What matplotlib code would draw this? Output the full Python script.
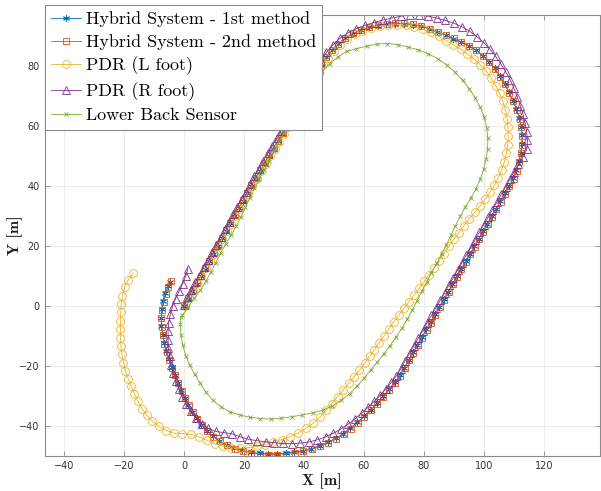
import numpy as np
import matplotlib
matplotlib.use("Agg")
import matplotlib.pyplot as plt

# Estimated trajectories (x, y) in metres
hybrid1 = [
    (0.0,0.0),(1.4,2.5),(2.8,5.0),(4.2,7.5),(5.6,10.0),(7.0,12.5),(8.4,15.0),(9.8,17.5),(11.2,20.0),(12.6,22.6),
    (14.0,25.1),(15.4,27.6),(16.8,30.1),(18.2,32.6),(19.6,35.1),(21.0,37.6),(22.4,40.1),(23.8,42.6),(25.3,45.1),
    (26.8,47.6),(28.3,50.1),(29.8,52.5),(31.3,55.0),(32.8,57.5),(34.3,60.0),(35.8,62.5),(37.2,65.0),(38.6,67.5),
    (40.0,70.1),(41.4,72.7),(42.8,75.3),(44.2,77.9),(45.7,80.5),
    (47.4,83.0),(49.3,85.3),(51.4,87.4),(53.7,89.3),(56.2,90.8),(58.9,92.0),(61.7,92.9),(64.6,93.5),(67.5,93.9),
    (70.4,94.1),(73.3,94.1),(76.2,93.8),(79.0,93.2),(81.8,92.4),(84.5,91.4),(87.2,90.3),(89.8,89.1),(92.4,87.9),
    (94.9,86.8),(97.3,85.3),(99.6,83.5),(101.7,81.5),(103.6,79.2),(105.3,76.7),(106.9,74.1),(108.3,71.3),
    (109.6,68.5),(110.8,65.6),(111.8,62.7),(112.4,59.8),(112.7,56.9),(112.6,54.0),(112.2,51.1),(111.6,48.2),
    (110.8,45.3),(109.8,42.6),
    (108.4,40.1),(106.9,37.6),(105.5,35.0),(104.0,32.5),(102.6,30.0),(101.1,27.5),(99.7,25.0),(98.2,22.5),
    (96.8,19.9),(95.3,17.4),(93.9,14.9),(92.4,12.4),(91.0,9.9),(89.5,7.4),(88.1,4.8),(86.6,2.3),(85.1,-0.2),
    (83.7,-2.7),(82.2,-5.3),(80.8,-7.8),(79.3,-10.3),(77.8,-12.9),(76.4,-15.4),(74.9,-17.9),(73.5,-20.5),
    (72.0,-23.0),(70.2,-25.4),(68.3,-27.8),(66.3,-30.1),(64.3,-32.4),(62.2,-34.6),(60.0,-36.7),(57.8,-38.8),
    (55.5,-40.7),(53.1,-42.5),(50.6,-44.1),(48.0,-45.4),(45.3,-46.6),(42.5,-47.5),(39.7,-48.2),(36.8,-48.7),
    (33.9,-49.1),(31.0,-49.3),(28.1,-49.3),(25.2,-49.1),(22.3,-48.7),(19.5,-48.1),(16.8,-47.3),(14.2,-46.2),
    (11.8,-44.9),(9.6,-43.3),(7.6,-41.5),(5.8,-39.5),(4.2,-37.4),(2.8,-35.2),(1.5,-32.9),(0.3,-30.5),
    (-0.9,-28.0),(-2.0,-25.5),(-3.1,-22.9),(-4.1,-20.3),(-5.1,-17.7),(-5.9,-15.0),(-6.6,-12.3),(-7.1,-9.5),
    (-7.5,-6.7),(-7.6,-3.9),(-7.4,-1.1),(-6.9,1.6),(-6.2,4.2),(-5.4,6.7),(-4.6,8.0),
]

hybrid2 = [
    (0.1,0.2),(1.5,2.7),(2.9,5.2),(4.3,7.6),(5.7,10.1),(7.1,12.6),(8.5,15.1),(9.9,17.6),(11.3,20.2),(12.7,22.7),
    (14.1,25.2),(15.5,27.7),(16.9,30.2),(18.3,32.7),(19.7,35.2),(21.1,37.7),(22.5,40.2),(23.9,42.7),(25.4,45.2),
    (26.9,47.7),(28.4,50.2),(29.9,52.6),(31.4,55.1),(32.9,57.6),(34.4,60.1),(35.9,62.6),(37.3,65.1),(38.7,67.6),
    (40.1,70.2),(41.5,72.8),(42.9,75.4),(44.3,78.0),(45.8,80.6),
    (47.5,83.1),(49.4,85.4),(51.5,87.5),(53.8,89.4),(56.3,90.9),(59.0,92.1),(61.8,93.0),(64.7,93.6),(67.6,94.0),
    (70.5,94.2),(73.4,94.2),(76.3,93.9),(79.1,93.3),(81.9,92.5),(84.6,91.5),(87.3,90.4),(89.9,89.2),(92.5,88.0),
    (95.0,86.8),(97.4,85.2),(99.7,83.4),(101.8,81.3),(103.7,79.0),(105.4,76.5),(107.0,73.9),(108.4,71.1),
    (109.7,68.3),(110.9,65.4),(111.9,62.5),(112.5,59.6),(112.8,56.7),(112.7,53.8),(112.3,50.9),(111.7,48.0),
    (110.9,45.1),(109.9,42.4),
    (108.5,39.9),(107.0,37.4),(105.6,34.8),(104.1,32.3),(102.7,29.8),(101.2,27.3),(99.8,24.8),(98.3,22.3),
    (96.9,19.7),(95.4,17.2),(94.0,14.7),(92.5,12.2),(91.1,9.7),(89.6,7.2),(88.2,4.6),(86.7,2.1),(85.2,-0.4),
    (83.8,-2.9),(82.3,-5.5),(80.9,-8.0),(79.4,-10.5),(77.9,-13.1),(76.5,-15.6),(75.0,-18.1),(73.6,-20.7),
    (72.1,-23.2),(70.3,-25.6),(68.4,-28.0),(66.4,-30.3),(64.4,-32.6),(62.3,-34.8),(60.1,-36.9),(57.9,-39.0),
    (55.6,-40.9),(53.2,-42.7),(50.7,-44.3),(48.1,-45.6),(45.4,-46.8),(42.6,-47.7),(39.8,-48.4),(36.9,-48.9),
    (34.0,-49.3),(31.1,-49.5),(28.2,-49.5),(25.3,-49.3),(22.4,-48.9),(19.6,-48.3),(16.9,-47.5),(14.3,-46.4),
    (11.9,-45.1),(9.7,-43.5),(7.7,-41.7),(5.9,-39.7),(4.3,-37.6),(2.9,-35.4),(1.6,-33.1),(0.4,-30.7),
    (-0.8,-28.2),(-1.9,-25.7),(-3.0,-23.1),(-4.0,-20.5),(-5.0,-17.9),(-5.8,-15.2),(-6.5,-12.5),(-7.0,-9.7),
    (-7.4,-6.9),(-7.5,-4.1),(-7.3,-1.3),(-6.8,1.4),(-6.1,4.0),(-5.3,6.5),(-4.4,8.3),
]

pdr_left = [
    (0.2,0.1),(1.6,2.6),(3.0,5.1),(4.4,7.6),(5.8,10.1),(7.2,12.6),(8.6,15.0),(10.0,17.5),(11.4,20.0),(12.8,22.5),
    (14.2,25.0),(15.6,27.5),(17.0,30.0),(18.4,32.5),(19.8,35.0),(21.2,37.5),(22.7,40.0),(24.2,42.5),(25.7,45.0),
    (27.2,47.5),(28.7,49.9),(30.2,52.3),(31.7,54.8),(33.2,57.3),(34.8,59.8),(36.3,62.3),(37.8,64.8),(39.3,67.3),
    (40.7,69.9),(42.1,72.5),(43.5,75.1),(44.9,77.7),(46.4,80.2),
    (48.1,82.7),(50.0,85.0),(52.1,87.1),(54.4,89.0),(56.9,90.6),(59.5,91.8),(62.3,92.7),(65.2,93.3),(68.1,93.6),
    (71.0,93.7),(73.9,93.6),(76.8,93.1),(79.6,92.2),(82.3,91.2),(84.9,89.9),(87.4,88.5),(89.8,87.0),(92.2,85.6),
    (94.5,84.0),(96.7,82.3),(98.8,80.4),(100.7,78.3),(102.4,76.0),(103.9,73.5),(105.2,70.9),(106.3,68.2),
    (107.1,65.4),(107.7,62.5),(108.0,59.6),(108.1,56.7),(107.9,53.8),(107.5,50.9),(106.8,48.1),(105.9,45.4),
    (104.8,42.8),(103.5,40.3),(102.0,37.9),
    (100.4,35.6),(98.7,33.4),(96.9,31.2),(95.1,29.0),(93.3,26.8),(91.6,24.5),(89.9,22.2),(88.2,19.9),(86.6,17.5),
    (85.0,15.1),(83.4,12.8),(81.8,10.5),(80.1,8.2),(78.4,5.9),(76.7,3.6),(75.0,1.4),(73.3,-0.8),(71.6,-3.0),
    (69.9,-5.3),(68.3,-7.6),(66.7,-9.9),(65.1,-12.2),(63.5,-14.5),(61.9,-16.8),(60.2,-19.1),(58.5,-21.4),
    (56.7,-23.6),(54.9,-25.8),(53.1,-28.0),(51.2,-30.2),(49.2,-32.6),(47.3,-34.8),(45.3,-37.0),(43.1,-39.0),
    (40.7,-40.8),(38.1,-42.3),(35.4,-43.5),(32.6,-44.5),(29.8,-45.4),(27.0,-46.2),(24.2,-46.8),(21.4,-47.2),
    (18.6,-47.4),(15.8,-47.3),(13.0,-46.8),(10.3,-45.9),(7.7,-44.8),(5.0,-43.6),(2.3,-42.8),(-0.5,-42.5),
    (-3.3,-42.4),(-5.9,-41.5),(-8.3,-40.1),(-10.5,-38.4),(-12.4,-36.4),(-14.0,-34.2),(-15.3,-31.8),(-16.5,-29.3),
    (-17.6,-26.8),(-18.6,-24.2),(-19.5,-21.6),(-20.2,-18.9),(-20.7,-16.1),(-21.0,-13.3),(-21.2,-10.5),
    (-21.2,-7.7),(-21.2,-4.9),(-21.1,-2.1),(-20.9,0.7),(-20.5,3.5),(-19.8,6.2),(-18.6,8.7),(-17.0,10.9),
]

pdr_right = [
    (0.0,0.5),(1.1,2.9),(2.4,5.5),(3.8,8.0),(5.2,10.5),(6.6,13.0),(8.0,15.5),(9.4,18.0),(10.8,20.5),(12.2,23.1),
    (13.6,25.6),(15.0,28.1),(16.4,30.6),(17.8,33.1),(19.2,35.6),(20.6,38.1),(22.0,40.6),(23.4,43.2),(24.9,45.8),
    (26.4,48.4),(27.9,50.9),(29.4,53.4),(30.9,55.9),(32.4,58.4),(33.9,61.0),(35.4,63.6),(36.8,66.2),(38.2,68.8),
    (39.6,71.4),(41.0,74.0),(42.5,76.6),(44.0,79.2),(45.6,81.7),
    (47.5,84.6),(49.7,87.1),(52.1,89.3),(54.7,91.1),(57.5,92.5),(60.4,93.6),(63.3,94.5),(66.3,95.3),(69.3,96.0),
    (72.3,96.6),(75.3,97.0),(78.3,97.0),(81.3,96.6),(84.2,96.0),(87.1,95.2),(89.9,94.3),(92.6,93.1),(95.2,91.6),
    (97.6,89.8),(99.9,87.8),(102.0,85.6),(103.9,83.2),(105.6,80.7),(107.2,78.1),(108.7,75.4),(110.0,72.6),
    (111.1,69.7),(112.1,66.8),(113.0,63.9),(113.7,61.0),(114.2,58.1),(114.5,55.2),(114.3,52.3),
    (113.0,49.7),(111.5,47.2),(110.0,44.7),(108.6,42.2),(107.2,39.7),(105.7,37.2),(104.3,34.6),(102.8,32.1),
    (101.4,29.6),(99.9,27.1),(98.5,24.6),(97.0,22.1),(95.6,19.5),(94.1,17.0),(92.7,14.5),(91.2,12.0),(89.8,9.5),
    (88.3,7.0),(86.9,4.4),(85.4,1.9),(83.9,-0.6),(82.5,-3.1),(81.0,-5.6),(79.6,-8.2),(78.1,-10.7),(76.6,-13.3),
    (75.2,-15.8),(73.7,-18.3),(72.3,-20.9),(70.8,-23.2),(69.1,-25.4),(67.3,-27.6),(65.4,-29.7),(63.4,-31.8),
    (61.3,-33.8),(59.2,-35.7),(57.0,-37.6),(54.7,-39.4),(52.3,-41.0),(49.8,-42.4),(47.2,-43.6),(44.5,-44.6),
    (41.7,-45.3),(38.8,-45.7),(35.9,-45.9),(33.0,-45.8),(30.1,-45.6),(27.2,-45.3),(24.3,-44.9),(21.5,-44.4),
    (18.7,-43.6),(16.0,-42.6),(13.3,-42.2),(10.6,-41.8),(8.1,-40.8),(5.9,-39.2),(3.9,-37.3),(2.2,-35.1),
    (0.7,-32.7),(-0.6,-30.2),(-1.7,-27.6),(-2.7,-25.0),(-3.6,-22.3),(-4.3,-19.6),(-4.8,-16.8),(-5.2,-14.0),
    (-5.3,-11.2),(-5.3,-8.4),(-5.1,-5.6),(-4.6,-2.8),(-3.8,-0.1),(-2.8,2.5),(-1.6,5.0),(-0.4,7.5),(0.6,10.0),
    (1.3,12.5),
]

lower_back = [
    (-0.5,-3.0),(1.5,-0.2),(3.5,2.6),(5.5,5.3),(7.3,8.3),(9.0,11.4),(10.6,14.5),(12.2,17.6),(13.9,20.6),
    (15.6,23.6),(17.4,26.6),(19.0,29.7),(20.5,32.9),(22.0,36.1),(23.5,39.3),(25.1,42.4),(26.8,45.4),(28.5,48.5),
    (30.1,51.6),(31.7,54.7),(33.3,57.8),(34.9,60.9),(36.5,64.0),(38.1,67.1),(39.8,70.1),(41.6,73.0),(43.6,75.8),
    (46.0,78.4),(48.6,80.8),(51.3,83.0),(54.2,84.9),(57.5,85.8),(60.9,86.6),(64.3,87.3),(67.8,87.5),(71.3,87.1),
    (74.7,86.3),(78.1,85.4),(81.4,84.1),(84.6,82.4),(87.6,80.3),(90.4,77.9),(92.9,75.2),(95.1,72.4),(97.1,69.3),
    (98.8,66.2),(100.1,62.9),(100.9,59.5),(101.3,56.0),(101.2,52.5),(100.7,49.0),(99.9,45.6),(98.8,42.3),
    (97.3,39.1),(95.6,36.0),(93.8,33.0),(92.1,29.9),(90.5,26.8),(89.0,23.6),(87.5,20.4),(85.9,17.3),(84.2,14.2),
    (82.5,11.1),(80.9,8.0),(79.3,4.9),(77.7,1.8),(76.1,-1.3),(74.4,-4.4),(72.6,-7.4),(70.7,-10.3),(68.7,-13.2),
    (66.6,-16.0),(64.4,-18.7),(62.2,-21.4),(60.0,-24.1),(57.7,-26.7),(55.2,-29.2),(52.5,-31.4),(49.5,-33.3),
    (46.3,-34.7),(42.9,-35.6),(39.5,-36.3),(36.0,-36.9),(32.5,-37.4),(29.0,-37.7),(25.5,-37.5),(22.0,-37.1),
    (18.6,-36.3),(15.3,-35.3),(12.3,-33.6),(9.6,-31.4),(7.3,-28.7),(5.4,-25.8),(3.6,-22.8),(1.9,-19.7),
    (0.6,-16.5),(-0.4,-13.1),(-1.0,-9.6),(-1.2,-6.1),(-1.0,-3.5),
]

labels = ["Hybrid System - 1st method", "Hybrid System - 2nd method",
          "PDR (L foot)", "PDR (R foot)", "Lower Back Sensor"]
xticks = [-40, -20, 0, 20, 40, 60, 80, 100, 120]
yticks = [-40, -20, 0, 20, 40, 60, 80]

series = [hybrid1, hybrid2, pdr_left, pdr_right, lower_back]
colors = ["#0072BD", "#D95319", "#EDB120", "#7E2F8E", "#77AC30"]
markers = [(6, 2, 0), "s", "o", "^", "x"]
msizes = [5.0, 4.6, 5.6, 6.0, 3.2]

W, H = 601, 491
fig = plt.figure(figsize=(W / 100, H / 100), dpi=100)
ax_l, ax_r, ax_t, ax_b = 45, 599.5, 15, 455.5
ax_w, ax_h = ax_r - ax_l, ax_b - ax_t
ax = fig.add_axes([ax_l / W, 1 - ax_b / H, ax_w / W, ax_h / H])

for pts, col, mk, ms, lab in zip(series, colors, markers, msizes, labels):
    arr = np.asarray(pts)
    ax.plot(arr[:, 0], arr[:, 1], color=col, lw=0.6, marker=mk, ms=ms,
            mfc="none", mec=col, mew=0.6, label=lab)

ax.set_xlim(-46.33, 138.5)
ax.set_ylim(-49.83, 97.0)
ax.set_xticks(xticks)
ax.set_yticks(yticks)
ax.grid(True, color="#e6e6e6", lw=0.6)
ax.set_axisbelow(True)
ax.tick_params(direction="in", top=True, right=True, length=3.5, width=0.6,
               colors="#8a8a8a", labelcolor="#333333", labelsize=7, pad=4)
for s in ax.spines.values():
    s.set_color("#8a8a8a")
    s.set_linewidth(0.8)

ax.set_xlabel("X [m]", fontfamily="cmb10", fontsize=11.5, color="#222222", va="center")
ax.set_ylabel("Y [m]", fontfamily="cmb10", fontsize=11.5, color="#222222", va="center")
ax.xaxis.set_label_coords(0.5, (ax_b - 481) / ax_h)
ax.yaxis.set_label_coords((15 - ax_l) / ax_w, 0.5)

leg = ax.legend(loc="upper left", bbox_to_anchor=(ax_l / W, 1 - 5 / H),
                bbox_transform=fig.transFigure, prop={"family": "cmr10", "size": 13},
                frameon=True, fancybox=False, framealpha=1, edgecolor="#8a8a8a",
                borderaxespad=0, handlelength=1.65, handletextpad=0.25,
                labelspacing=0.38, borderpad=0.35, numpoints=1)
leg.get_frame().set_linewidth(0.8)
leg.set_zorder(10)

fig.savefig("out.png", dpi=100)
